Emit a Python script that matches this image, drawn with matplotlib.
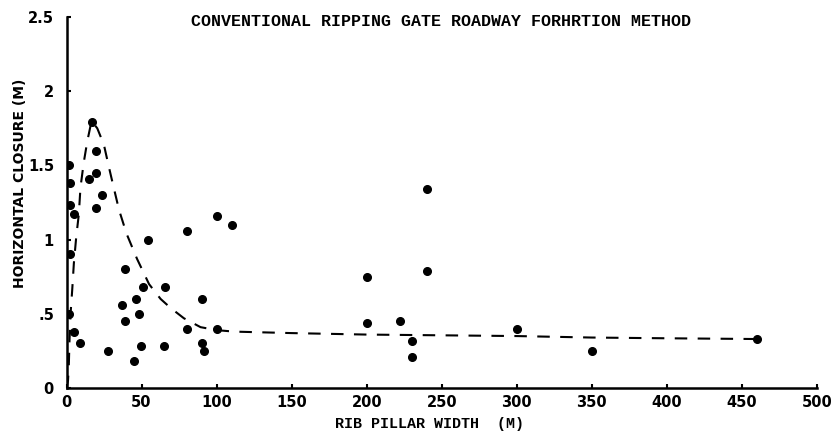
import matplotlib
matplotlib.use("Agg")
import matplotlib.pyplot as plt

# Observed data points (rib pillar width in m, horizontal closure in m)
width_m = [1.5, 2, 2, 4.9, 2, 1.5, 4.9, 9.3, 14.9, 19.8, 23.8, 19.8, 16.7, 19.8,
           27.5, 39.3, 37.1, 39.3, 46, 48.2, 51.1, 54.5, 44.9, 49.8, 64.9, 65.5,
           80, 80, 90, 90, 91.5, 100, 100, 110.5, 200, 200, 222, 230, 230,
           240, 240, 300, 350, 460]
closure_m = [1.50, 1.38, 1.23, 1.17, 0.90, 0.50, 0.38, 0.30, 1.41, 1.45, 1.30,
             1.21, 1.79, 1.60, 0.25, 0.80, 0.56, 0.45, 0.60, 0.50, 0.68, 1.00,
             0.18, 0.28, 0.28, 0.68, 1.06, 0.40, 0.60, 0.30, 0.25, 1.16, 0.40,
             1.10, 0.75, 0.44, 0.45, 0.32, 0.21, 1.34, 0.79, 0.40, 0.25, 0.33]

# Fitted trend curve (dashed)
curve_x = [0, 1, 1.5, 2, 2.7, 3.8, 4.9, 6.5, 8.2, 9.3, 11.5, 13.8, 16.7, 20.5,
           24.9, 28, 31, 35, 40, 47, 55, 62.7, 69.3, 78.2, 89.3,
           100, 111.5, 150, 200, 250, 300, 350, 400, 460]
curve_y = [0, 0.05, 0.14, 0.32, 0.50, 0.66, 0.84, 1.02, 1.17, 1.35, 1.52, 1.66,
           1.80, 1.75, 1.64, 1.50, 1.37, 1.20, 1.04, 0.87, 0.70, 0.60, 0.54,
           0.47, 0.41, 0.39, 0.38, 0.37, 0.36, 0.355, 0.35, 0.34, 0.335, 0.33]

xticks = [0, 50, 100, 150, 200, 250, 300, 350, 400, 450, 500]
xtick_labels = ["0", "50", "100", "150", "200", "250", "300", "350", "400", "450", "500"]
yticks = [0, 0.5, 1, 1.5, 2, 2.5]
ytick_labels = ["0", ".5", "1", "1.5", "2", "2.5"]

title = "CONVENTIONAL RIPPING GATE ROADWAY FORHRTION METHOD"
xlabel = "RIB PILLAR WIDTH  (M)"
ylabel = "HORIZONTAL CLOSURE (M)"

W, H = 836, 438
fig = plt.figure(figsize=(W / 100, H / 100), dpi=100)
left, right, bottom, top = 66.5, 817, 388, 17
ax = fig.add_axes([left / W, (H - bottom) / H, (right - left) / W, (bottom - top) / H])

ax.plot(curve_x, curve_y, color="black", lw=1.5, linestyle=(0, (6, 5)))
ax.plot(width_m, closure_m, linestyle="none", marker="o", color="black",
        markersize=5.5)

ax.set_xlim(0, 500)
ax.set_ylim(0, 2.5)
ax.set_xticks(xticks)
ax.set_xticklabels(xtick_labels)
ax.set_yticks(yticks)
ax.set_yticklabels(ytick_labels)

for s in ["top", "right"]:
    ax.spines[s].set_visible(False)
for s in ["left", "bottom"]:
    ax.spines[s].set_linewidth(1.8)

ax.tick_params(axis="both", direction="in", length=3, width=1.5)
ax.tick_params(axis="x", pad=5)
ax.tick_params(axis="y", pad=9)
for lab in ax.get_xticklabels() + ax.get_yticklabels():
    lab.set_fontfamily("DejaVu Sans")
    lab.set_fontweight("bold")
    lab.set_fontsize(10.5)

fig.text(441 / W, 1 - 21 / H, title, family="Liberation Mono", fontweight="bold",
         fontsize=12, ha="center", va="center")
fig.text(430 / W, 1 - 424 / H, xlabel, family="Liberation Mono", fontweight="bold",
         fontsize=10.8, ha="center", va="center")
fig.text(20 / W, 1 - 183 / H, ylabel, family="DejaVu Sans", fontweight="bold",
         fontsize=10, rotation=90, ha="center", va="center")

fig.savefig("out.png", dpi=100)
